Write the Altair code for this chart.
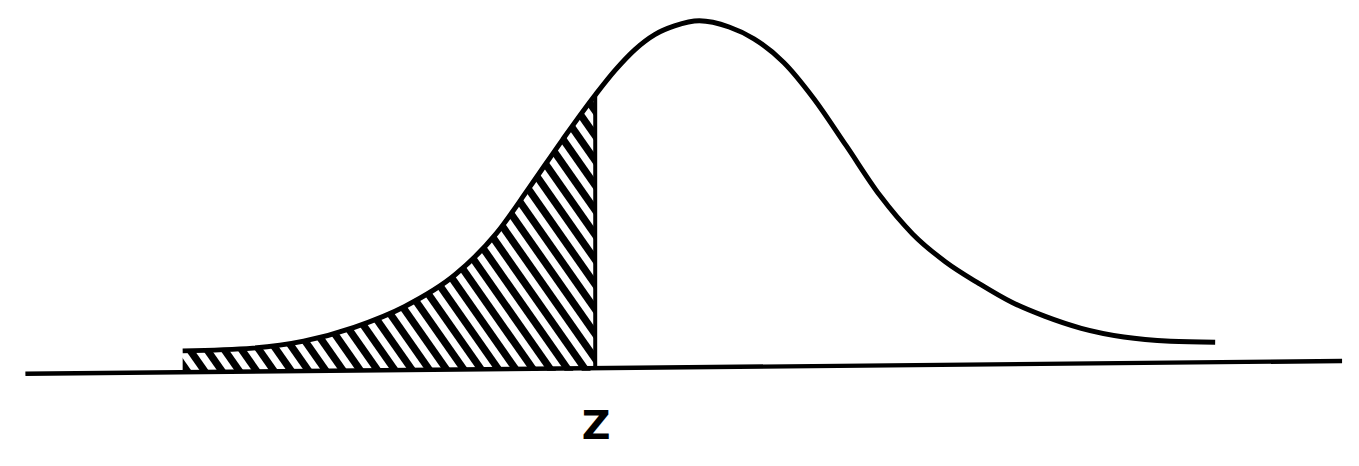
import altair as alt
import pandas as pd

# Curve: x in standard-deviation units, y as relative height
curve_x = [-3.473, -3.0, -2.66, -2.32, -1.98, -1.64, -1.367, -1.147, -0.92, -0.70,
           -0.567, -0.433, -0.30, -0.167, 0.0, 0.2, 0.367, 0.567, 0.767, 0.987,
           1.213, 1.433, 1.653, 1.88, 2.1, 2.32, 2.567, 2.853, 3.167, 3.467]
curve_y = [0.049, 0.057, 0.077, 0.117, 0.177, 0.269, 0.386, 0.517, 0.657, 0.786,
           0.857, 0.917, 0.960, 0.985, 1.0, 0.982, 0.948, 0.880, 0.777, 0.640,
           0.497, 0.386, 0.306, 0.243, 0.189, 0.149, 0.114, 0.089, 0.077, 0.074]
z_value = -0.70
z_height = 0.786
z_label = ["Z"]
baseline_x = [-4.53, 4.32]
baseline_y = [-0.017, 0.02]

X_DOM = [-4.647, 4.3067]
Y_DOM = [-0.26, 1.0257]

curve = pd.DataFrame({"x": curve_x, "y": curve_y})
tail = curve[curve["x"] <= z_value + 1e-9].copy()
tail["y0"] = -0.008
base = pd.DataFrame({"x": baseline_x, "y": baseline_y})

xs = alt.Scale(domain=X_DOM, nice=False, zero=False)
ys = alt.Scale(domain=Y_DOM, nice=False, zero=False)

def X(f="x"):
    return alt.X(f"{f}:Q", scale=xs, axis=None)

def Y(f="y"):
    return alt.Y(f"{f}:Q", scale=ys, axis=None)

# black filled tail
area = alt.Chart(tail).mark_area(color="black", interpolate="monotone", opacity=1).encode(
    x=X(), y=Y(), y2=alt.Y2("y0:Q")
)

# white diagonal hatching (only visible over the black tail)
stripes = alt.Chart(alt.sequence(0, 37, as_="k")).transform_calculate(
    xb="-3.4667 + 0.11667 * datum.k",
    xt="-3.4667 + 0.11667 * datum.k - 1.438",
    yb="-0.03",
    yt="0.85",
).mark_rule(color="white", strokeWidth=7, strokeCap="butt", clip=True).encode(
    x=X("xt"), y=Y("yt"), x2="xb:Q", y2="yb:Q"
)

line = alt.Chart(curve).mark_line(color="black", strokeWidth=5, interpolate="monotone",
                                  strokeCap="butt").encode(x=X(), y=Y())

baseline = alt.Chart(base).mark_line(color="black", strokeWidth=4.5).encode(x=X(), y=Y())

vline = alt.Chart(pd.DataFrame({"x": [z_value], "y": [0.0], "y2": [z_height]})).mark_rule(
    color="black", strokeWidth=4
).encode(x=X(), y=Y(), y2="y2:Q")

label = alt.Chart(pd.DataFrame({"x": [z_value], "y": [-0.17], "t": z_label})).mark_text(
    font="DejaVu Sans", fontSize=40, fontWeight="bold", color="black", dx=1
).encode(x=X(), y=Y(), text="t:N")

chart = alt.layer(area, stripes, line, baseline, vline, label).properties(
    width=1343, height=450, padding=0, background="white",
).configure_view(strokeWidth=0)

chart.save("out.html", embed_options={"renderer": "svg", "actions": False})
